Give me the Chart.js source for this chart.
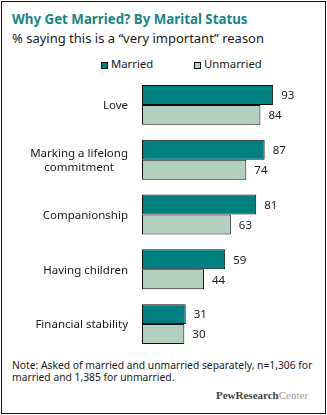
<!DOCTYPE html>
<html><head><meta charset="utf-8">
<script src="https://cdn.jsdelivr.net/npm/chart.js@4.4.0/dist/chart.umd.min.js"></script>
<style>
html,body{margin:0;padding:0;background:#fff;}
body{width:327px;height:415px;position:relative;overflow:hidden;font-family:"Noto Sans",sans-serif;}
.frame{position:absolute;left:1px;top:1px;width:325px;height:413px;box-sizing:border-box;border:1px solid #111;}
.t{position:absolute;white-space:nowrap;}
#title{left:12px;top:11px;font-size:13.3px;line-height:16px;font-weight:bold;color:#1a8585;}
#sub{left:12px;top:30px;font-size:13px;line-height:16px;color:#1a1a1a;}
.leg{position:absolute;top:57px;font-size:11.3px;line-height:14px;color:#1a1a1a;}
.sw{position:absolute;width:7px;height:7px;top:62px;box-sizing:border-box;border:1px solid #111;}
#note{left:12px;top:359px;font-size:10.3px;line-height:12px;color:#1a1a1a;}
#logo{left:216px;top:389px;font-family:"Liberation Serif",serif;font-size:11px;line-height:13px;color:#444;}
#logo b{font-weight:bold;}
#logo span{color:#a0a0a0;}
canvas{position:absolute;left:0;top:72px;}
</style></head>
<body>
<div class="frame"></div>
<div class="t" id="title">Why Get Married? By Marital Status</div>
<div class="t" id="sub">% saying this is a “very important” reason</div>
<div class="sw" style="left:101px;background:#008080"></div>
<div class="leg" style="left:111px">Married</div>
<div class="sw" style="left:194px;background:#b3cfbd"></div>
<div class="leg" style="left:204px">Unmarried</div>
<canvas id="c" width="327" height="285"></canvas>
<div class="t" id="note">Note: Asked of married and unmarried separately, n=1,306 for<br>married and 1,385 for unmarried.</div>
<div class="t" id="logo"><b>PewResearch</b><span>Center</span></div>
<script>
const categories = [["Love"], ["Marking a lifelong", "commitment"], ["Companionship"], ["Having children"], ["Financial stability"]];
const seriesNames = ["Married", "Unmarried"];
const married = [93, 87, 81, 59, 31];
const unmarried = [84, 74, 63, 44, 30];

const FONT = '11.5px "Noto Sans"';
const labelPlugin = {
  id: 'labels',
  afterDatasetsDraw(chart) {
    const ctx = chart.ctx;
    ctx.save();
    ctx.font = FONT;
    ctx.fillStyle = '#1a1a1a';
    chart.data.datasets.forEach((ds, di) => {
      const meta = chart.getDatasetMeta(di);
      meta.data.forEach((bar, i) => {
        ctx.textAlign = 'left';
        ctx.textBaseline = 'middle';
        ctx.fillText(String(ds.data[i]), bar.x + 8, bar.y + 1);
      });
    });
    const y = chart.scales.y;
    const rightEdge = chart.chartArea.left - 14;
    const lh = 14.5;
    chart.data.labels.forEach((lines, i) => {
      const cy = y.getPixelForValue(i);
      const w = Math.max(...lines.map(l => ctx.measureText(l).width));
      const cx = rightEdge - w / 2;
      ctx.textAlign = 'center';
      ctx.textBaseline = 'middle';
      lines.forEach((l, k) => {
        const ly = cy + (k - (lines.length - 1) / 2) * lh + 1;
        ctx.fillText(l, cx, ly);
      });
    });
    ctx.restore();
  }
};

new Chart(document.getElementById('c'), {
  type: 'bar',
  data: {
    labels: categories,
    datasets: [
      { label: seriesNames[0], data: married, backgroundColor: '#008080', borderColor: '#111', borderWidth: 1, borderSkipped: false },
      { label: seriesNames[1], data: unmarried, backgroundColor: '#b3cfbd', borderColor: '#111', borderWidth: 1, borderSkipped: false }
    ]
  },
  options: {
    indexAxis: 'y',
    responsive: false,
    devicePixelRatio: 1,
    animation: false,
    categoryPercentage: 40 / 55,
    barPercentage: 1,
    layout: { padding: { left: 142, right: 44, top: 5.5, bottom: 5.5 } },
    scales: {
      x: { display: false, min: 0, max: 100 },
      y: { display: false }
    },
    plugins: { legend: { display: false }, tooltip: { enabled: false }, title: { display: false } }
  },
  plugins: [labelPlugin]
});
</script>
</body></html>
